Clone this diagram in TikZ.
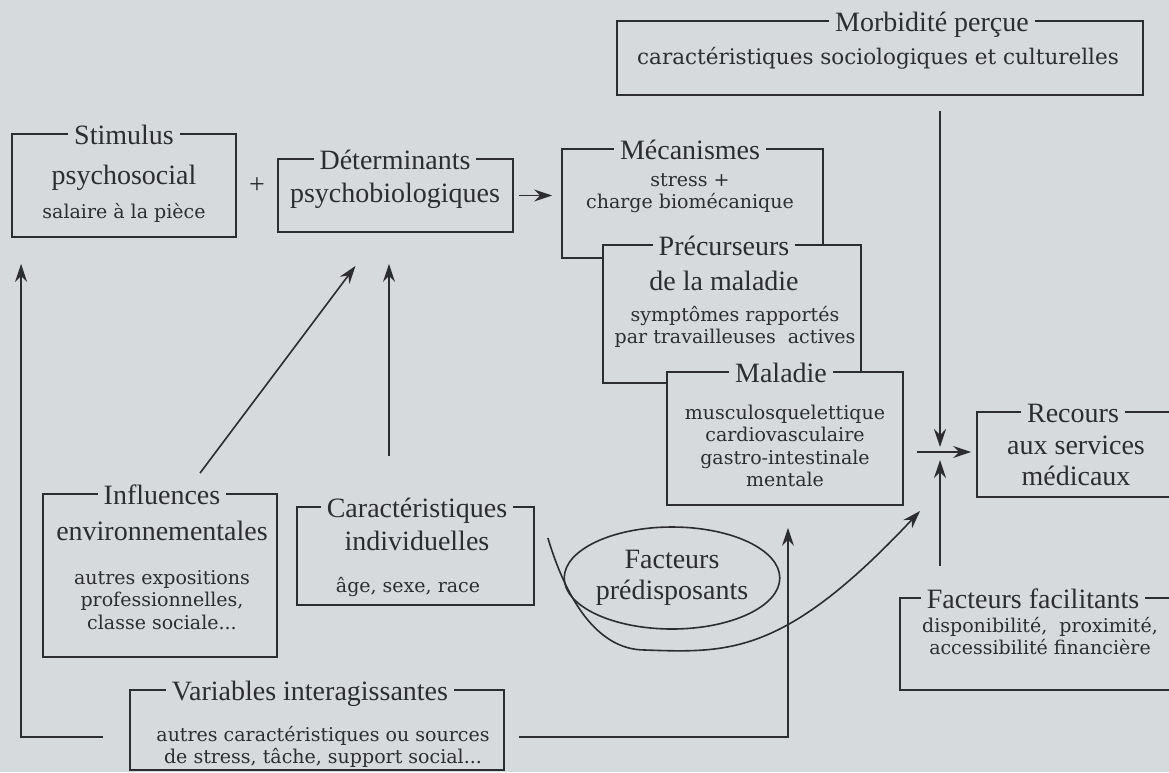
\documentclass[tikz,border=0pt]{standalone}
\usepackage{fontspec}
\setmainfont{Liberation Serif}
\newfontfamily\bodyfont{DejaVu Serif}
\usetikzlibrary{arrows.meta,shapes.geometric}
\definecolor{paper}{RGB}{214,218,221}
\definecolor{ink}{RGB}{45,45,48}
\tikzset{
  box/.style={draw=ink, fill=paper, line width=1.8pt, inner sep=0pt},
  ttl/.style={fill=paper, text=ink, inner sep=0pt, inner xsep=6pt,
    font=\fontsize{28}{31}\selectfont, text height=18pt, text depth=5pt},
  hd/.style={text=ink, align=center, font=\fontsize{28}{31}\selectfont},
  txt/.style={text=ink, align=center, font=\bodyfont\fontsize{19}{22.5}\selectfont},
  con/.style={draw=ink, line width=1.6pt},
  arr/.style={con, -{Stealth[length=18pt,width=12pt,inset=6pt]}},
}
\begin{document}
\begin{tikzpicture}[x=1pt, y=-1pt]
  \fill[paper] (0,0) rectangle (1169,772);
  \useasboundingbox (0,0) rectangle (1169,772);

  % Stimulus + Determinants
  \node[box, minimum width=224pt, minimum height=103pt] (stim) at (124,185.5) {};
  \node[ttl] at (124,138) {Stimulus};
  \node[hd] at (124,178) {psychosocial};
  \node[txt] at (124,213) {salaire à la pièce};
  \node[hd] (plus) at (257,186) {+};
  \node[box, minimum width=235pt, minimum height=73pt] (det) at (395.5,195.5) {};
  \node[ttl] at (395,163) {Déterminants};
  \node[hd] at (395,196) {psychobiologiques};

  % Mecanismes, precurseurs, maladie (empiles)
  \node[box, minimum width=261pt, minimum height=109pt] (mec) at (692.5,203.5) {};
  \node[ttl] at (690,153) {Mécanismes};
  \node[txt] at (690,193) {stress +\\charge biomécanique};
  \node[box, minimum width=258pt, minimum height=138pt] (prec) at (732,314) {};
  \node[ttl] at (724,249) {Précurseurs};
  \node[hd] at (724,281) {de la maladie};
  \node[txt] at (735,327) {symptômes rapportés\\par travailleuses~ actives};
  \node[box, minimum width=236pt, minimum height=133pt] (mal) at (785,438.5) {};
  \node[ttl] at (781,376) {Maladie};
  \node[txt] at (785,446) {musculosquelettique\\cardiovasculaire\\gastro-intestinale\\mentale};

  % Morbidite, recours, facteurs facilitants
  \node[box, minimum width=526pt, minimum height=74pt] (morb) at (880,58) {};
  \node[ttl] at (932,25) {Morbidité perçue};
  \node[txt, font=\bodyfont\fontsize{21.5}{24}\selectfont] at (878,58)
    {caractéristiques sociologiques et culturelles};
  \node[box, minimum width=223pt, minimum height=85pt] (rec) at (1088.5,454.5) {};
  \node[ttl] at (1073,416) {Recours};
  \node[hd] at (1076,461) {aux services\\médicaux};
  \node[box, minimum width=300pt, minimum height=92pt] (fac) at (1050,644) {};
  \node[ttl] at (1033,602) {Facteurs facilitants};
  \node[txt] at (1040,636) {disponibilité,~ proximité,\\accessibilité financière};

  % Influences, caracteristiques, variables
  \node[box, minimum width=234pt, minimum height=163pt] (infl) at (160,575.5) {};
  \node[ttl] at (162,498) {Influences};
  \node[hd] at (162,531) {environnementales};
  \node[txt] at (162,600) {autres expositions\\professionnelles,\\classe sociale...};
  \node[box, minimum width=237pt, minimum height=98pt] (car) at (415.5,556) {};
  \node[ttl] at (417,511) {Caractéristiques};
  \node[hd] at (417,541) {individuelles};
  \node[txt] at (408,587) {âge, sexe, race};
  \node[box, minimum width=374pt, minimum height=80pt] (var) at (317,730) {};
  \node[ttl] at (310,694) {Variables interagissantes};
  \node[txt] at (323,747) {autres caractéristiques ou sources\\de stress, tâche, support social...};

  \node[draw=ink, line width=1.6pt, ellipse, minimum width=202pt, minimum height=102pt,
    hd, inner sep=0pt] (pred) at (672,578) {Facteurs\\prédisposants};

  \coordinate (junc) at (940,452);

  % Fleches
  \draw[arr] ([xshift=5pt]det.east) -- ([xshift=-9pt]det.east -| mec.west);
  \draw[arr] ([xshift=40pt,yshift=20pt]infl.north) -- ([xshift=-40pt,yshift=-33pt]det.south);
  \draw[arr] ([xshift=-26.5pt,yshift=50pt]car.north) -- ([xshift=-6.5pt,yshift=-31pt]det.south);
  \draw[arr] ([xshift=-26pt,yshift=-7pt]var.west) -| ([xshift=10pt,yshift=-26pt]stim.south west);
  \draw[arr] ([xshift=14pt,yshift=-7pt]var.east) -| ([xshift=3pt,yshift=-22pt]mal.south);
  \draw[arr] ([xshift=60pt,yshift=-15pt]morb.south) -- ([yshift=5pt]junc);
  \draw[arr] ([yshift=31pt]junc |- fac.north) -- ([yshift=-8pt]junc);
  \draw[arr] ([xshift=-23pt]junc) -- ([xshift=-5pt]junc -| rec.west);
  \draw[arr] ([xshift=13pt,yshift=18pt]car.east)
    .. controls (565,595) and (595,650) .. (645,650)
    .. controls (730,653) and (785,655) .. ([xshift=-20pt,yshift=-59pt]junc);
\end{tikzpicture}
\end{document}
